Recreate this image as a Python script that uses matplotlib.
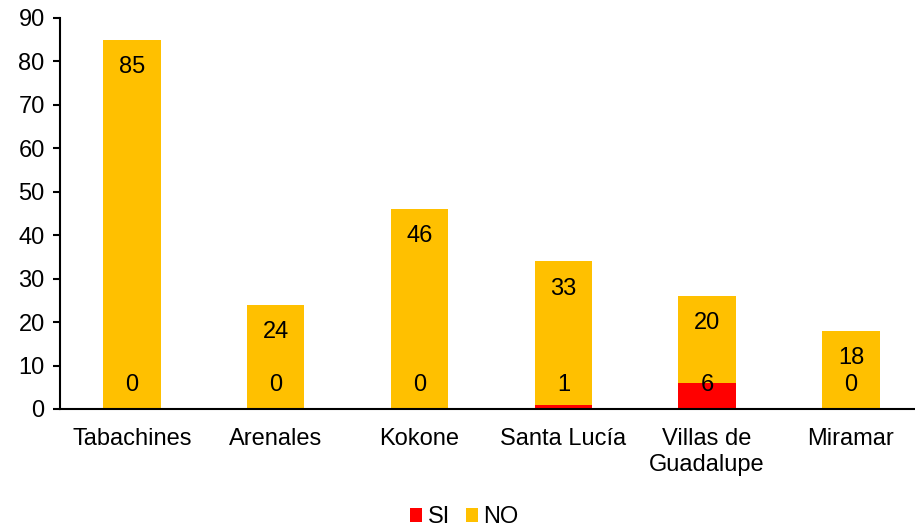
import matplotlib.pyplot as plt
import numpy as np

plt.rcParams['font.family'] = ['Liberation Sans', 'DejaVu Sans']

categories = ["Tabachines", "Arenales", "Kokone", "Santa Lucía", "Villas de\nGuadalupe", "Miramar"]
si_vals = [0, 0, 0, 1, 6, 0]
no_vals = [85, 24, 46, 33, 20, 18]

fig = plt.figure(figsize=(9.15, 5.27), dpi=100)
ax = fig.add_axes([0.0656, 0.224, 0.943, 0.742])

x = np.arange(len(categories))
w = 0.4
ax.bar(x, si_vals, w, color='#FF0000', label='SI')
ax.bar(x, no_vals, w, bottom=si_vals, color='#FFC000', label='NO')

fs = 17
for i in range(len(x)):
    ax.text(x[i], 5.5, str(si_vals[i]), ha='center', va='center', fontsize=fs)
    top = si_vals[i] + no_vals[i]
    ax.text(x[i], top - 6.3, str(no_vals[i]), ha='center', va='center', fontsize=fs)

ax.set_xlim(-0.5, len(x) - 0.5)
ax.set_ylim(0, 90)
ax.set_yticks(range(0, 91, 10))
ax.set_xticks(x)
ax.set_xticklabels(categories, fontsize=fs)
ax.tick_params(axis='y', labelsize=fs, length=5, width=1.5, direction='out', pad=6)
ax.tick_params(axis='x', length=0, pad=14)
for s in ['top', 'right']:
    ax.spines[s].set_visible(False)
ax.spines['left'].set_linewidth(1.5)
ax.spines['bottom'].set_linewidth(1.5)

ax.legend(loc='center', bbox_to_anchor=(0.4688, -0.277), ncol=2, frameon=False,
          fontsize=fs, handlelength=0.5, handleheight=0.5, handletextpad=0.25, columnspacing=0.65,
          bbox_transform=ax.transAxes)

fig.savefig('out.png', dpi=100)
